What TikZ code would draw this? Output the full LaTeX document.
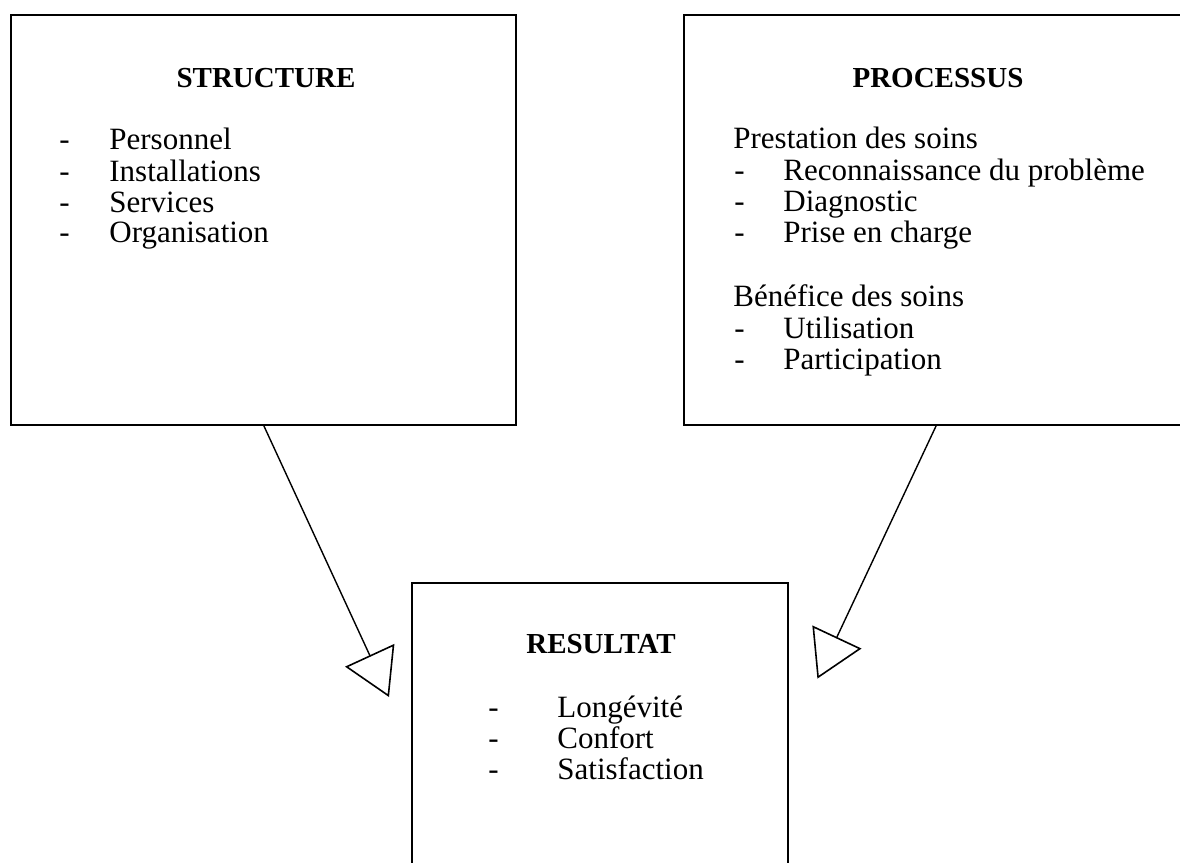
\documentclass[tikz,border=0pt]{standalone}
\usepackage{fontspec}
\setmainfont{Liberation Serif}
\usetikzlibrary{arrows.meta}
\begin{document}
\begin{tikzpicture}[x=0.5pt,y=-0.5pt,
  box/.style={draw, line width=1pt, rectangle, inner sep=0pt, outer sep=0pt},
  conn/.style={line width=0.7pt, -{Triangle[open, length=23pt, width=27pt, line width=0.8pt]}},
  txt/.style={anchor=base west, inner sep=0pt, font=\fontsize{15.5}{18}\selectfont},
  head/.style={anchor=base, inner sep=0pt, font=\fontsize{14.5}{17}\selectfont\bfseries}]
\useasboundingbox (0,0) rectangle (1180,863);
\clip (0,0) rectangle (1180,863);
% boxes
\node[box, minimum width=252.5pt, minimum height=205pt] (S) at (263.5,220) {};
\node[box, minimum width=252.5pt, minimum height=205pt] (P) at (936.5,220) {};
\node[box, minimum width=188pt, minimum height=158.5pt] (R) at (600,741.5) {};
% connectors
\coordinate (tipL) at (389,697);
\coordinate (tipR) at (817.4,678.6);
\draw[conn] (S.south) -- (tipL);
\draw[conn] (P.south) -- (tipR);
% STRUCTURE
\node[head] (Sh) at (266,87) {STRUCTURE};
\foreach \y/\t [count=\i] in {149/Personnel,181/Installations,212/Services,242/Organisation}{
  \node[txt] (Sd\i) at (59,\y) {-};
  \node[txt] (St\i) at (109,\y) {\t};
}
% PROCESSUS
\node[head] (Ph) at (938,87) {PROCESSUS};
\node[txt] (Pg1) at (733,148) {Prestation des soins};
\foreach \y/\t [count=\i] in {180/Reconnaissance du problème,211/Diagnostic,242/Prise en charge}{
  \node[txt] (Pd\i) at (734,\y) {-};
  \node[txt] (Pt\i) at (783,\y) {\t};
}
\node[txt] (Pg2) at (733,306) {Bénéfice des soins};
\foreach \y/\t [count=\i] in {338/Utilisation,369/Participation}{
  \node[txt] (Pe\i) at (734,\y) {-};
  \node[txt] (Pu\i) at (783,\y) {\t};
}
% RESULTAT
\node[head] (Rh) at (601,653) {RESULTAT};
\foreach \y/\t [count=\i] in {717/Longévité,748/Confort,779/Satisfaction}{
  \node[txt] (Rd\i) at (488,\y) {-};
  \node[txt] (Rt\i) at (557,\y) {\t};
}
\end{tikzpicture}
\end{document}
